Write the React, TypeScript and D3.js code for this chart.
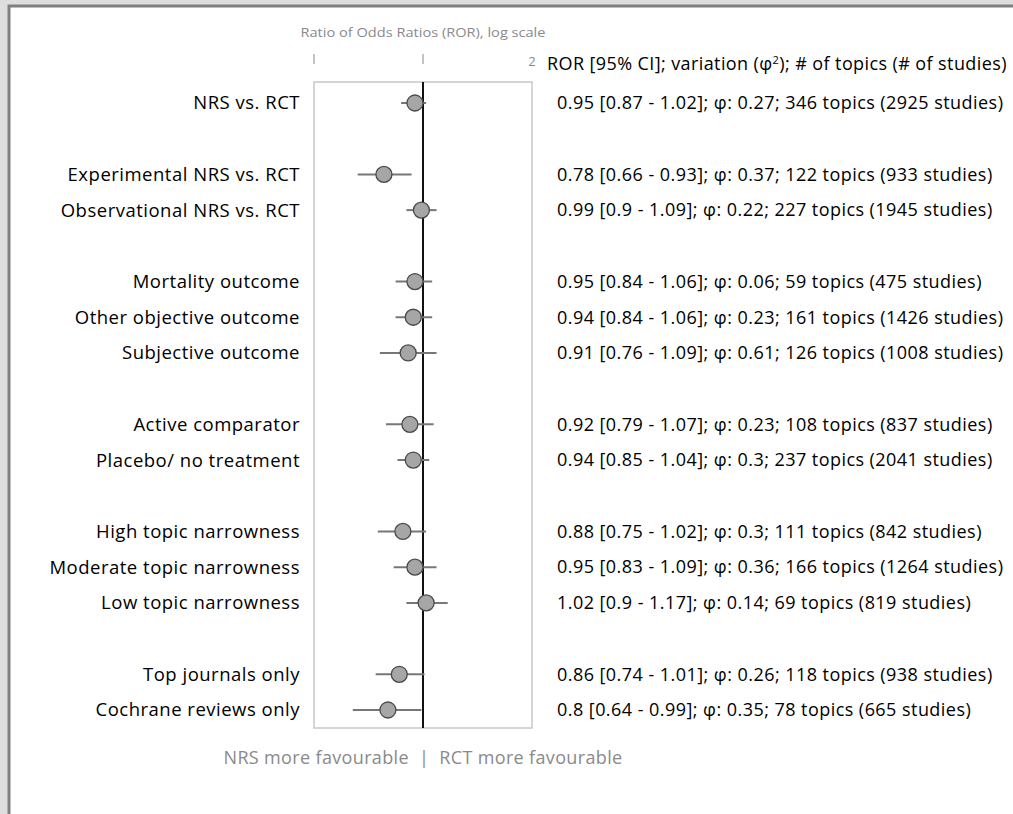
import React from "react";
import * as d3 from "d3";

const labels = [
  "NRS vs. RCT",
  "Experimental NRS vs. RCT",
  "Observational NRS vs. RCT",
  "Mortality outcome",
  "Other objective outcome",
  "Subjective outcome",
  "Active comparator",
  "Placebo/ no treatment",
  "High topic narrowness",
  "Moderate topic narrowness",
  "Low topic narrowness",
  "Top journals only",
  "Cochrane reviews only",
];
const slots = [0, 2, 3, 5, 6, 7, 9, 10, 12, 13, 14, 16, 17];
const ror = [0.95, 0.78, 0.99, 0.95, 0.94, 0.91, 0.92, 0.94, 0.88, 0.95, 1.02, 0.86, 0.8];
const lower = [0.87, 0.66, 0.9, 0.84, 0.84, 0.76, 0.79, 0.85, 0.75, 0.83, 0.9, 0.74, 0.64];
const upper = [1.02, 0.93, 1.09, 1.06, 1.06, 1.09, 1.07, 1.04, 1.02, 1.09, 1.17, 1.01, 0.99];
const phi = ["0.27", "0.37", "0.22", "0.06", "0.23", "0.61", "0.23", "0.3", "0.3", "0.36", "0.14", "0.26", "0.35"];
const topics = [346, 122, 227, 59, 161, 126, 108, 237, 111, 166, 69, 118, 78];
const studies = [2925, 933, 1945, 475, 1426, 1008, 837, 2041, 842, 1264, 819, 938, 665];
const tickValues = [0.5, 1, 2];

const W = 1013;
const H = 814;
const FONT = "'Open Sans', sans-serif";

export default function App() {
  const x = d3.scaleLog().domain([0.5, 2]).range([314, 532]);
  const y = d3.scaleLinear().domain([0, 17]).range([103, 710]);
  const boxTop = 82;
  const boxBottom = 728;

  const rightText = (i: number) =>
    `${ror[i]} [${lower[i]} - ${upper[i]}]; φ: ${phi[i]}; ${topics[i]} topics (${studies[i]} studies)`;

  return (
    <svg
      width={W}
      height={H}
      style={{ position: "absolute", left: 0, top: 0 }}
      fontFamily={FONT}
    >
      <rect x={0} y={0} width={W} height={H} fill="#dedede" />
      <rect x={9} y={6} width={W + 20} height={H + 20} fill="#ffffff" stroke="#808080" strokeWidth={3} />

      <text x={423} y={37} textAnchor="middle" fontSize={12.5} fill="#8a8a8a" textLength={245} lengthAdjust="spacingAndGlyphs">
        Ratio of Odds Ratios (ROR), log scale
      </text>
      {tickValues.map((t) =>
        t === 2 ? (
          <text key={t} x={x(t)} y={66} textAnchor="middle" fontSize={13} fill="#8a8a8a">
            2
          </text>
        ) : (
          <line key={t} x1={x(t)} x2={x(t)} y1={54} y2={64} stroke="#8a8a8a" strokeWidth={1} />
        )
      )}
      <text x={547} y={70} fontSize={18} letterSpacing={0.4} fill="#000">
        ROR [95% CI]; variation (φ
        <tspan dy={-6} fontSize={11}>2</tspan>
        <tspan dy={6}>); # of topics (# of studies)</tspan>
      </text>

      <rect
        x={x(0.5)}
        y={boxTop}
        width={x(2) - x(0.5)}
        height={boxBottom - boxTop}
        fill="none"
        stroke="#c8c8c8"
        strokeWidth={1.5}
      />
      <line x1={x(1)} x2={x(1)} y1={boxTop} y2={boxBottom} stroke="#111" strokeWidth={2} />

      {labels.map((lab, i) => {
        const yy = y(slots[i]);
        return (
          <g key={lab}>
            <text x={300} y={yy} dy="0.35em" textAnchor="end" fontSize={18.5} letterSpacing={0.5} fill="#000">
              {lab}
            </text>
            <line x1={x(lower[i])} x2={x(upper[i])} y1={yy} y2={yy} stroke="#777" strokeWidth={2} />
            <circle cx={x(ror[i])} cy={yy} r={8} fill="#a6a6a6" stroke="#4a4a4a" strokeWidth={1.3} />
            <text x={557} y={yy} dy="0.35em" fontSize={18} letterSpacing={0.45} fill="#000">
              {rightText(i)}
            </text>
          </g>
        );
      })}

      <text x={423} y={764} textAnchor="middle" fontSize={18} letterSpacing={0.35} fill="#8a8a8a" style={{ whiteSpace: "pre" }}>
        {"NRS more favourable  |  RCT more favourable"}
      </text>
    </svg>
  );
}
